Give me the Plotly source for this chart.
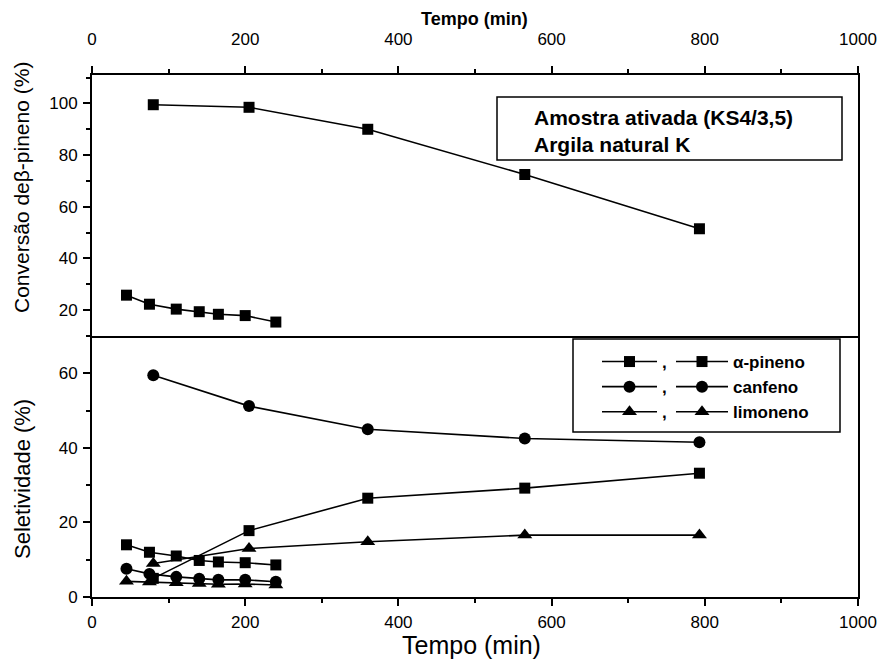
import plotly.graph_objects as go

# ---- data ----
t_ativ = [80, 205, 360, 565, 793]
t_nat = [45, 75, 110, 140, 165, 200, 240]

conv_ativ = [99.5, 98.5, 90.0, 72.5, 51.5]
conv_nat = [25.8, 22.3, 20.4, 19.4, 18.4, 17.9, 15.4]

apin_ativ = [5.0, 17.8, 26.5, 29.2, 33.2]
canf_ativ = [59.5, 51.2, 45.0, 42.5, 41.5]
limo_ativ = [9.0, 13.0, 14.8, 16.6, 16.6]

apin_nat = [14.0, 12.0, 11.0, 9.8, 9.4, 9.2, 8.6]
canf_nat = [7.6, 6.2, 5.4, 4.9, 4.6, 4.6, 4.1]
limo_nat = [4.2, 4.0, 3.8, 3.6, 3.4, 3.5, 3.2]

sel_names = ["α-pineno", "canfeno", "limoneno"]
top_labels = ["Amostra ativada (KS4/3,5)", "Argila natural K"]

FONT = "Liberation Sans, Arial, sans-serif"
BLACK = "black"

# page layout (body margin of 8 px is included)
OFF = 8
PL, PR, PT, PB = 92, 858, 75, 597  # plot area in page pixels
W, H = 885, 666


def px(xp):
    return (xp - PL) / (PR - PL)


def py(yp):
    return (PB - yp) / (PB - PT)


fig = go.Figure()

line = dict(color=BLACK, width=1.6)

# top panel
fig.add_trace(go.Scatter(x=t_ativ, y=conv_ativ, xaxis="x2", yaxis="y2", mode="lines+markers",
                         line=line, marker=dict(symbol="square", size=11, color=BLACK), showlegend=False))
fig.add_trace(go.Scatter(x=t_nat, y=conv_nat, xaxis="x2", yaxis="y2", mode="lines+markers",
                         line=line, marker=dict(symbol="square", size=11, color=BLACK), showlegend=False))

symbols = ["square", "circle", "triangle-up"]
sizes = [11, 12, 13]
nat_sets = [apin_nat, canf_nat, limo_nat]
ativ_sets = [apin_ativ, canf_ativ, limo_ativ]

for i in range(3):
    fig.add_trace(go.Scatter(x=t_nat, y=nat_sets[i], xaxis="x", yaxis="y", mode="lines+markers",
                             line=line, marker=dict(symbol=symbols[i], size=sizes[i], color=BLACK),
                             name=",", legend="legend"))
for i in range(3):
    fig.add_trace(go.Scatter(x=t_ativ, y=ativ_sets[i], xaxis="x", yaxis="y", mode="lines+markers",
                             line=line, marker=dict(symbol=symbols[i], size=sizes[i], color=BLACK),
                             name=sel_names[i], legend="legend2"))

axis_common = dict(showline=True, linecolor=BLACK, linewidth=2, showgrid=False, zeroline=False,
                   ticks="outside", ticklen=7, tickwidth=2, tickcolor=BLACK, automargin=False,
                   tickfont=dict(family=FONT, size=17, color=BLACK))
minor_x = dict(ticks="outside", dtick=100, ticklen=4, tickwidth=1.5, tickcolor=BLACK)
minor_y = dict(ticks="outside", dtick=10, tick0=0, ticklen=4, tickwidth=1.5, tickcolor=BLACK)
inside_common = dict(showline=False, showgrid=False, zeroline=False, showticklabels=False,
                     ticks="inside", ticklen=7, tickwidth=2, tickcolor=BLACK, automargin=False)

fig.update_layout(
    width=W, height=H,
    margin=dict(l=PL - OFF, r=W - (PR - OFF), t=PT - OFF, b=H - (PB - OFF)),
    paper_bgcolor="white", plot_bgcolor="white",
    font=dict(family=FONT, color=BLACK),
    xaxis=dict(domain=[0, 1], anchor="y", range=[0, 1000], dtick=200, mirror=False,
               minor=minor_x, ticklabelstandoff=2, **axis_common),
    xaxis2=dict(domain=[0, 1], anchor="y2", side="top", range=[0, 1000], dtick=200, mirror=True,
                minor=minor_x, ticklabelstandoff=14, **axis_common),
    xaxis3=dict(overlaying="x", anchor="y", side="top", range=[0, 1000], dtick=200,
                minor=dict(ticks="inside", dtick=100, ticklen=4, tickwidth=1.5, tickcolor=BLACK),
                **inside_common),
    yaxis=dict(domain=[0, 0.5], anchor="x", range=[0, 70], dtick=20, mirror=True,
               minor=minor_y, ticklabelstandoff=2, **axis_common),
    yaxis2=dict(domain=[0.5, 1], anchor="x2", range=[10, 111], tick0=0, dtick=20, mirror=True,
                minor=minor_y, ticklabelstandoff=2, **axis_common),
    yaxis3=dict(overlaying="y", anchor="x", side="right", range=[0, 70], dtick=20,
                minor=dict(ticks="inside", dtick=10, ticklen=4, tickwidth=1.5, tickcolor=BLACK),
                **inside_common),
    yaxis4=dict(overlaying="y2", anchor="x2", side="right", range=[10, 111], tick0=0, dtick=20,
                minor=dict(ticks="inside", dtick=10, tick0=0, ticklen=4, tickwidth=1.5, tickcolor=BLACK),
                **inside_common),
    legend=dict(x=px(597), y=py(344), xanchor="left", yanchor="top",
                bgcolor="rgba(0,0,0,0)", font=dict(size=17, family=FONT, weight="bold"), itemwidth=55,
                tracegroupgap=0),
    legend2=dict(x=px(671), y=py(344), xanchor="left", yanchor="top",
                 bgcolor="rgba(0,0,0,0)", font=dict(size=17, family=FONT, weight="bold"), itemwidth=52,
                 tracegroupgap=0),
    shapes=[
        dict(type="rect", xref="paper", yref="paper",
             x0=px(497), x1=px(842), y0=py(160), y1=py(97),
             line=dict(color=BLACK, width=1.5), fillcolor="rgba(0,0,0,0)"),
        dict(type="rect", xref="paper", yref="paper",
             x0=px(573), x1=px(840), y0=py(432), y1=py(339),
             line=dict(color=BLACK, width=1.5), fillcolor="rgba(0,0,0,0)"),
    ],
    annotations=[
        dict(text="<b>" + top_labels[0] + "</b>", xref="paper", yref="paper", x=px(532),
             y=py(117), xanchor="left", yanchor="middle", showarrow=False,
             font=dict(size=21, family=FONT)),
        dict(text="<b>" + top_labels[1] + "</b>", xref="paper", yref="paper", x=px(532),
             y=py(144), xanchor="left", yanchor="middle", showarrow=False,
             font=dict(size=21, family=FONT)),
        # axis titles
        dict(text="Tempo (min)", xref="paper", yref="paper", x=px(471), y=py(645),
             xanchor="center", yanchor="middle", showarrow=False, font=dict(size=25, family=FONT)),
        dict(text="<b>Tempo (min)</b>", xref="paper", yref="paper", x=px(474), y=py(19),
             xanchor="center", yanchor="middle", showarrow=False, font=dict(size=18, family=FONT)),
        dict(text="Conversão deβ-pineno (%)", xref="paper", yref="paper", x=px(21), y=py(188),
             xanchor="center", yanchor="middle", textangle=-90, showarrow=False,
             font=dict(size=21, family=FONT)),
        dict(text="Seletividade (%)", xref="paper", yref="paper", x=px(22), y=py(479),
             xanchor="center", yanchor="middle", textangle=-90, showarrow=False,
             font=dict(size=22, family=FONT)),
    ],
)

fig.write_html("out.html")
